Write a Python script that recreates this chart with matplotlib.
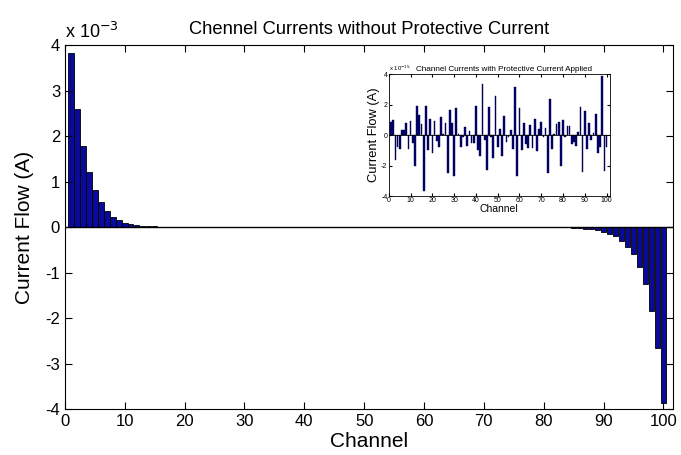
import numpy as np
import matplotlib
matplotlib.use("Agg")
import matplotlib.pyplot as plt

plt.rcParams['font.family'] = ['Liberation Sans', 'DejaVu Sans']
plt.rcParams['axes.unicode_minus'] = False

# main chart data (units of 1e-3 A)
channels = np.arange(1, 101)
head = [3.82, 2.6, 1.78, 1.22, 0.82, 0.54, 0.36, 0.23, 0.15, 0.09,
        0.06, 0.045, 0.03, 0.02, 0.015]
tail = [-0.015, -0.02, -0.035, -0.05, -0.07, -0.11, -0.15, -0.2, -0.3,
        -0.44, -0.6, -0.87, -1.26, -1.85, -2.65, -3.87]
main_vals = head + [0.0] * (100 - len(head) - len(tail)) + tail

# inset data (units of 1e-15 A)
inset_vals = [0.85, 0.97, -1.65, -0.8, -0.88, 0.33, 0.33, 0.8, -0.88, 0.92,
              -0.5, -2.0, 1.88, 1.3, 0.7, -3.65, 1.9, -0.98, 1.05, -1.15,
              0.95, -0.4, -0.75, 1.22, 0.05, 0.78, -2.48, 1.62, 0.82, -2.65,
              1.8, 0.1, -0.8, -0.1, 0.55, -0.7, 0.3, -0.5, -0.5, 1.9,
              -0.95, -1.4, 3.35, -0.3, -2.3, 1.85, -0.15, -1.5, 2.55, -0.8,
              0.4, -1.4, 1.25, -0.45, -0.1, 0.35, -0.9, 3.15, -2.7, 1.8,
              -0.95, 0.78, -0.6, -0.85, 0.65, -0.85, 1.05, -1.05, 0.4, 0.88,
              -0.15, 0.5, -2.5, 2.35, -0.9, 0.05, 0.72, 0.88, -2.05, 1.0,
              -0.1, 0.63, 0.63, -0.57, -0.48, -0.72, 0.2, 1.85, -2.45, 1.6,
              -0.92, 0.8, -0.3, 0.17, 1.4, -1.2, -0.75, 3.9, -2.35, -0.8]

bar_color = '#0a0a9a'

fig = plt.figure(figsize=(6.81, 4.55), dpi=100)
ax = fig.add_axes([0.0954, 0.101, 0.8928, 0.8])
ax.bar(channels, main_vals, width=0.9, color=bar_color, edgecolor='black', linewidth=0.6)
ax.axhline(0, color='black', linewidth=1)
ax.set_xlim(0, 101.6)
ax.set_ylim(-4, 4)
ax.set_xticks(range(0, 101, 10))
ax.set_yticks(range(-4, 5))
ax.tick_params(direction='in', top=True, right=True, labelsize=12, length=5)
ax.set_xlabel("Channel", fontsize=15, labelpad=2)
ax.set_ylabel("Current Flow (A)", fontsize=15, labelpad=8)
ax.set_title("Chennel Currents without Protective Current", fontsize=13.2, pad=8)
ax.text(0.0, 1.008, r'x 10$^{-3}$', transform=ax.transAxes, fontsize=13, ha='left', va='bottom')

# inset
ins = fig.add_axes([0.571, 0.569, 0.3245, 0.268])
ins.bar(channels, inset_vals, width=0.8, color='#000070', edgecolor='#000040', linewidth=0.3)
ins.axhline(0, color='black', linewidth=0.6)
ins.set_xlim(0, 101.5)
ins.set_ylim(-4, 4)
ins.set_xticks(range(0, 101, 10))
ins.set_yticks([-4, -2, 0, 2, 4])
ins.tick_params(direction='in', top=True, right=True, labelsize=5, length=2, pad=1)
for s in ins.spines.values():
    s.set_linewidth(0.6)
ins.set_xlabel("Channel", fontsize=7.5, labelpad=0)
ins.set_ylabel("Current Flow (A)", fontsize=9.3, labelpad=1)
ins.text(0.125, 1.01, "Channel Currents with Protective Current Applied", transform=ins.transAxes,
         fontsize=5.9, ha='left', va='bottom')
ins.text(0.0, 1.01, r'x 10$^{-15}$', transform=ins.transAxes, fontsize=4.3, ha='left', va='bottom')

fig.savefig("out.png", dpi=100)
